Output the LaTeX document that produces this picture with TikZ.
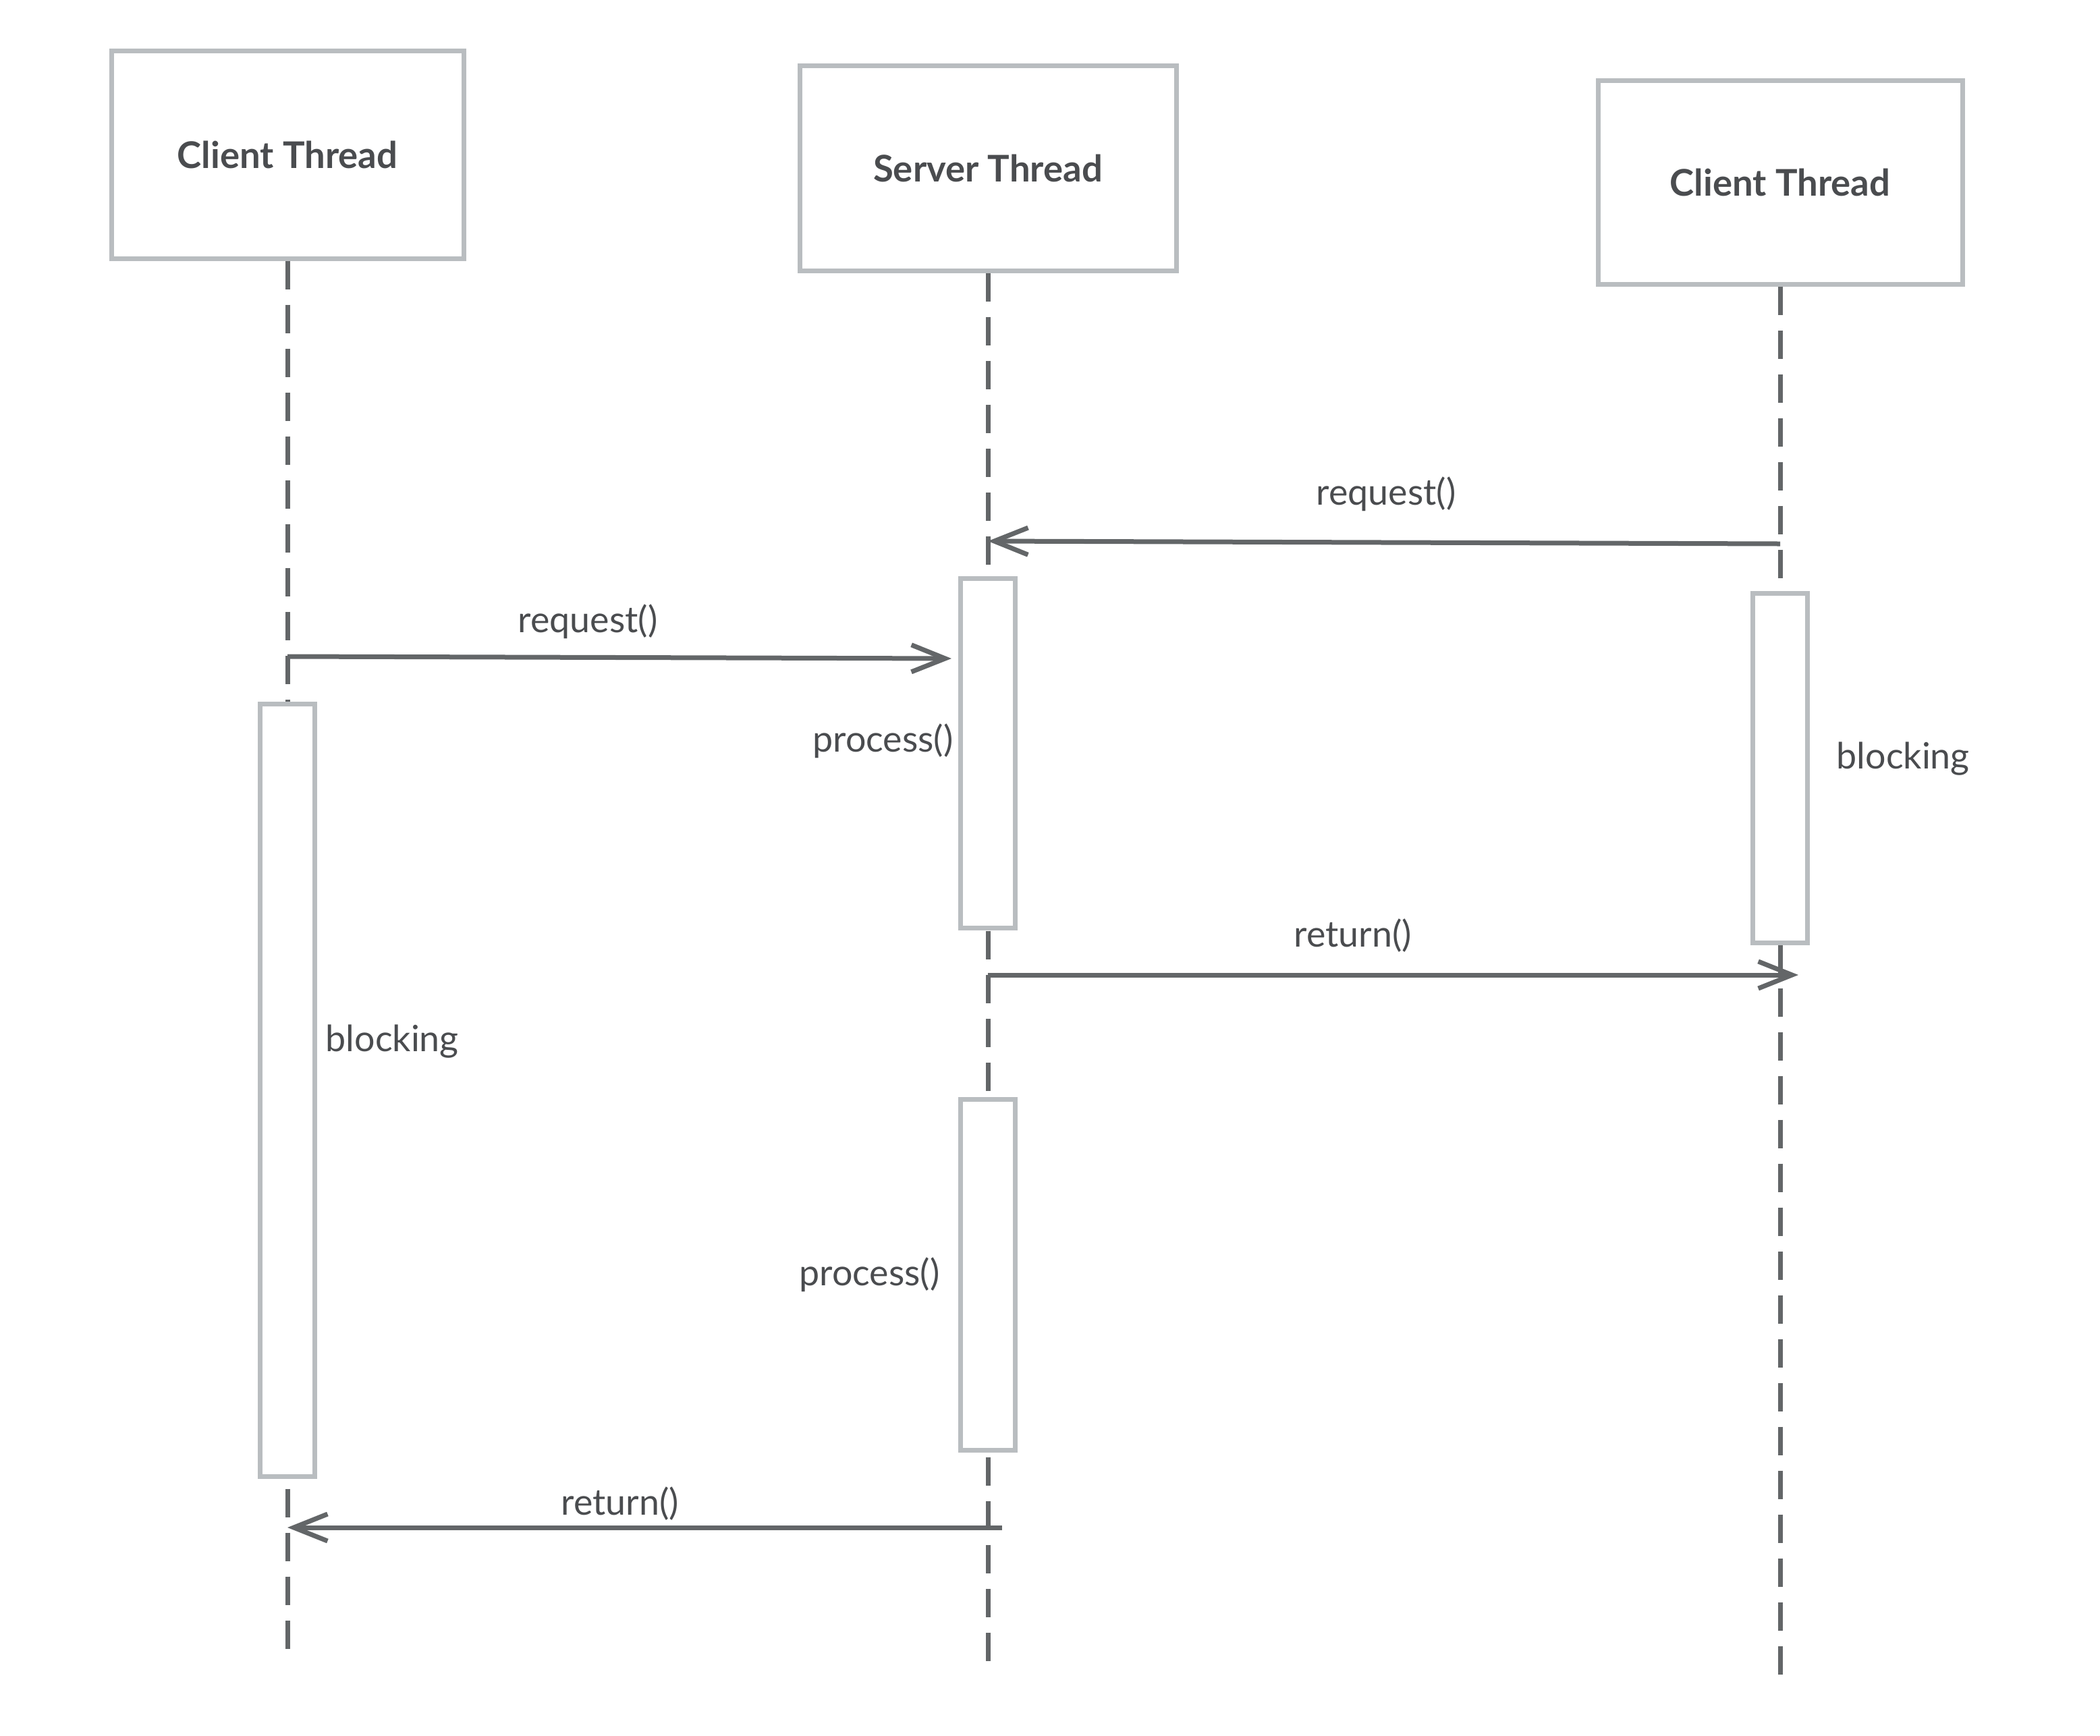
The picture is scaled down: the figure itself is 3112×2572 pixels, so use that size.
\documentclass[tikz,border=0pt]{standalone}
\usepackage{fontspec}
\setmainfont{Lato}
\usetikzlibrary{arrows.meta}
\usepackage{xcolor}
\definecolor{BoxGray}{HTML}{B9BDC0}
\definecolor{LineGray}{HTML}{636668}
\definecolor{TextGray}{HTML}{4A4C4F}
\tikzset{
  thread node/.style={draw=BoxGray,fill=white,line width=0.7mm,inner sep=0pt,
    font=\fontsize{15.5}{18}\selectfont\bfseries,text=TextGray},
  bar node/.style={draw=BoxGray,fill=white,line width=0.7mm,inner sep=0pt,
    minimum width=8.1mm},
  life line/.style={draw=LineGray,line width=0.7mm,dash pattern=on 4.2mm off 2.3mm},
  msg arrow/.style={-{Straight Barb[length=5mm,width=4mm]},draw=LineGray,line width=0.7mm},
  msg label/.style={font=\fontsize{15.3}{18}\selectfont,text=TextGray,inner sep=0pt}
}

\begin{document}
\begin{tikzpicture}[x=0.1mm,y=-0.1mm]
  \useasboundingbox (0,0) rectangle (3112,2572);
  % threads
  \node[thread node,minimum width=52.2mm,minimum height=30.8mm] (clientA) at (426,229) {Client Thread};
  \node[thread node,minimum width=55.8mm,minimum height=30.4mm] (server) at (1464,249) {Server Thread};
  \node[thread node,minimum width=54mm,minimum height=30.2mm] (clientB) at (2638,270) {Client Thread};
  % lifelines
  \coordinate (endA) at (426,2444);
  \coordinate (endS) at (1464,2467);
  \coordinate (endB) at (2638,2487);
  \draw[life line] (clientA.south) -- (endA);
  \draw[life line] (server.south) -- (endS);
  \draw[life line] (clientB.south) -- (endB);
  % activations
  \node[bar node,minimum height=114.5mm] (blockA) at (426,1616) {};
  \node[bar node,minimum height=51.8mm] (procA) at (1464,1116) {};
  \node[bar node,minimum height=52mm] (procB) at (1464,1889) {};
  \node[bar node,minimum height=51.8mm] (blockB) at (2638,1138) {};
  % messages
  \coordinate (reqB1) at (2638,806);
  \coordinate (reqB2) at (1464,802);
  \coordinate (reqA1) at (426,973);
  \coordinate (reqA2) at (1410,976);
  \coordinate (retB1) at (1464,1445);
  \coordinate (retB2) at (2665,1445);
  \coordinate (retA1) at (1485,2264);
  \coordinate (retA2) at (426,2264);
  \draw[msg arrow] (reqB1) -- (reqB2);
  \draw[msg arrow] (reqA1) -- (reqA2);
  \draw[msg arrow] (retB1) -- (retB2);
  \draw[msg arrow] (retA1) -- (retA2);
  % labels
  \node[msg label] (lreqB) at (2054,732) {request()};
  \node[msg label] (lreqA) at (871,921) {request()};
  \node[msg label] (lretB) at (2005,1387) {return()};
  \node[msg label] (lretA) at (919,2229) {return()};
  \node[msg label,anchor=east] (lprocA) at (1413,1098) {process()};
  \node[msg label,anchor=east] (lprocB) at (1393,1889) {process()};
  \node[msg label,anchor=west] (lblockA) at (482,1544) {blocking};
  \node[msg label,anchor=west] (lblockB) at (2721,1125) {blocking};
\end{tikzpicture}
\end{document}
